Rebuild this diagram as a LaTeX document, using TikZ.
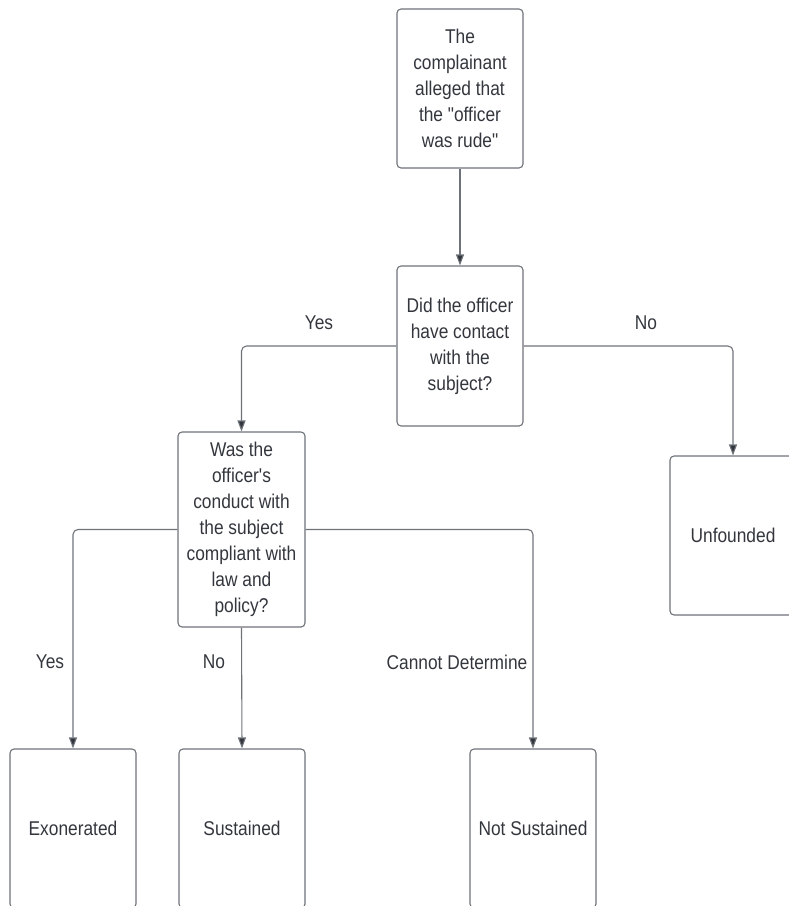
\documentclass[tikz,border=0pt]{standalone}
\usepackage{fontspec}
\setmainfont{Liberation Sans}[Ligatures=TeXOff, FakeStretch=0.87]
\usetikzlibrary{arrows.meta}
\definecolor{inkgray}{HTML}{33373D}
\definecolor{edgegray}{HTML}{6E7379}
\begin{document}
\begin{tikzpicture}[x=1bp,y=-1bp,
  box/.style={draw=edgegray, line width=1.1bp, rounded corners=4bp, fill=white,
    text=inkgray, align=center, inner sep=0pt,
    font=\fontsize{20}{26}\selectfont},
  lbl/.style={text=inkgray, inner sep=0pt, font=\fontsize{20}{26}\selectfont},
  flow/.style={draw=edgegray, line width=1.1bp, rounded corners=5bp,
    -{Triangle[length=11bp,width=8bp,fill=inkgray]}}]
\useasboundingbox (0,0) rectangle (789,906);
\begin{scope}
\clip (0,0) rectangle (789,906);
% decision boxes
\node[box, minimum width=126bp, minimum height=159bp] (claim) at (460,88.5)
  {The\\complainant\\alleged that\\the "officer\\was rude"};
\node[box, minimum width=126bp, minimum height=160bp] (contact) at (460,346)
  {Did the officer\\have contact\\with the\\subject?};
\node[box, minimum width=127bp, minimum height=195bp] (conduct) at (241.5,529.5)
  {Was the\\officer's\\conduct with\\the subject\\compliant with\\law and\\policy?};
% outcome boxes
\node[box, minimum width=126bp, minimum height=159bp] (unfounded) at (733,535.5) {Unfounded};
\node[box, minimum width=126bp, minimum height=159bp] (exonerated) at (73,828.5) {Exonerated};
\node[box, minimum width=126bp, minimum height=159bp] (sustained) at (242,828.5) {Sustained};
\node[box, minimum width=126bp, minimum height=159bp] (notsustained) at (533,828.5) {Not Sustained};
% connectors
\draw[flow] (claim.south) -- (contact.north);
\draw[flow] (contact.west) -| (conduct.north);
\draw[flow] (contact.east) -| (unfounded.north);
\draw[flow] (conduct.west) -| (exonerated.north);
\draw[flow] (conduct.south) -- (sustained.north);
\draw[flow] (conduct.east) -| (notsustained.north);
% branch labels
\node[lbl] (yes1) at (319,323) {Yes};
\node[lbl] (no1) at (646,323) {No};
\node[lbl] (yes2) at (50,662) {Yes};
\node[lbl] (no2) at (214,662) {No};
\node[lbl] (cannot) at (457,662) {Cannot Determine};
\end{scope}
\end{tikzpicture}
\end{document}
